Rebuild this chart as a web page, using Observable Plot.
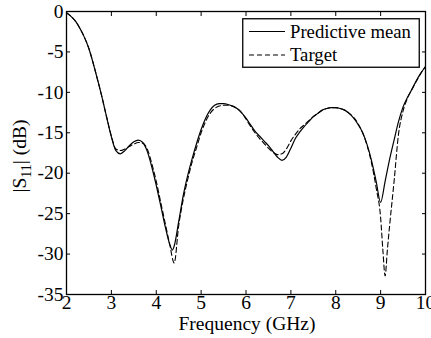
<!DOCTYPE html>
<html><head><meta charset="utf-8">
<script src="https://cdn.jsdelivr.net/npm/d3@7"></script>
<script src="https://cdn.jsdelivr.net/npm/@observablehq/plot@0.6"></script>
<style>
body{margin:0;background:#fff;}
#wrap{position:relative;width:431px;height:338px;overflow:hidden;font-family:"Liberation Serif","Times New Roman",serif;}
#legend{position:absolute;left:242px;top:18px;}
</style></head><body><div id="wrap"></div>
<script>
const freqMean = [2.0,2.1,2.2,2.3,2.4,2.5,2.6,2.7,2.8,2.9,3.0,3.1,3.2,3.3,3.4,3.5,3.6,3.7,3.8,3.9,4.0,4.1,4.2,4.3,4.36,4.4,4.5,4.6,4.7,4.8,4.9,5.0,5.1,5.2,5.3,5.4,5.5,5.6,5.7,5.8,5.9,6.0,6.1,6.2,6.3,6.4,6.5,6.6,6.7,6.8,6.9,7.0,7.1,7.2,7.3,7.4,7.5,7.6,7.7,7.8,7.9,8.0,8.1,8.2,8.3,8.4,8.5,8.6,8.7,8.8,8.9,9.0,9.1,9.2,9.3,9.4,9.5,9.6,9.7,9.8,9.9,10.0];
const meanS11 = [-0.2,-0.6,-1.2,-2.1,-3.2,-4.6,-6.5,-8.6,-10.8,-13.2,-15.5,-17.2,-17.6,-17.2,-16.6,-16.1,-15.9,-16.2,-17.3,-19.2,-21.5,-24.0,-26.6,-28.8,-29.5,-29.0,-26.0,-22.8,-20.3,-18.2,-16.3,-14.6,-13.2,-12.2,-11.6,-11.4,-11.4,-11.5,-11.7,-12.0,-12.5,-13.2,-14.0,-14.8,-15.4,-16.0,-16.6,-17.3,-18.0,-18.4,-18.0,-16.9,-15.7,-14.9,-14.2,-13.6,-13.0,-12.6,-12.2,-12.0,-11.9,-11.9,-12.0,-12.2,-12.6,-13.2,-14.0,-15.0,-16.5,-18.5,-21.0,-23.6,-21.0,-18.3,-15.9,-13.6,-11.8,-10.6,-9.6,-8.5,-7.6,-6.8];
const freqTarget = [2.0,2.1,2.2,2.3,2.4,2.5,2.6,2.7,2.8,2.9,3.0,3.1,3.2,3.3,3.4,3.5,3.6,3.7,3.8,3.9,4.0,4.1,4.2,4.3,4.4,4.5,4.6,4.7,4.8,4.9,5.0,5.1,5.2,5.3,5.4,5.5,5.6,5.7,5.8,5.9,6.0,6.1,6.2,6.3,6.4,6.5,6.6,6.7,6.8,6.9,7.0,7.1,7.2,7.3,7.4,7.5,7.6,7.7,7.8,7.9,8.0,8.1,8.2,8.3,8.4,8.5,8.6,8.7,8.8,8.9,9.0,9.05,9.1,9.15,9.2,9.3,9.4,9.5,9.6,9.7,9.8,9.9,10.0];
const targetS11 = [-0.1,-0.6,-1.2,-2.1,-3.2,-4.6,-6.5,-8.6,-10.8,-13.2,-15.4,-17.0,-17.2,-17.0,-16.7,-16.4,-16.2,-16.3,-17.0,-18.8,-21.0,-23.6,-26.2,-28.8,-31.1,-26.5,-23.3,-20.8,-18.6,-16.8,-15.0,-13.6,-12.6,-12.0,-11.7,-11.6,-11.6,-11.7,-12.0,-12.5,-13.3,-14.2,-15.0,-15.7,-16.3,-16.9,-17.4,-17.7,-17.6,-17.0,-16.0,-15.2,-14.5,-14.0,-13.5,-13.0,-12.6,-12.2,-12.0,-11.9,-11.9,-12.0,-12.2,-12.6,-13.1,-13.9,-15.0,-16.6,-18.8,-21.8,-25.5,-29.5,-32.7,-29.5,-26.5,-21.0,-15.1,-12.3,-10.7,-9.6,-8.6,-7.6,-6.8];
const xTicks = [2,3,4,5,6,7,8,9,10];
const yTicks = [0,-5,-10,-15,-20,-25,-30,-35];
const seriesNames = ["Predictive mean","Target"];

const meanData = freqMean.map((f,i)=>({f, v: meanS11[i]}));
const targetData = freqTarget.map((f,i)=>({f, v: targetS11[i]}));
const fmt = d => String(d);

const chart = Plot.plot({
  width: 431, height: 338,
  marginLeft: 66, marginRight: 6, marginTop: 11, marginBottom: 44,
  style: {fontSize: "19.5px", fontFamily: "Liberation Serif, Times New Roman, serif", color: "#000", background: "#fff", overflow: "visible"},
  x: {domain: [2,10], label: null},
  y: {domain: [-35,0], label: null},
  marks: [
    Plot.axisX({anchor:"bottom", ticks: xTicks, tickFormat: fmt, tickSize: 0, tickPadding: 1, label: null}),
    Plot.axisY({anchor:"left", ticks: yTicks, tickFormat: fmt, tickSize: 0, tickPadding: 3, label: null}),
    Plot.axisX({anchor:"bottom", ticks: xTicks, tickSize: -4, fill: "none", label: null, strokeWidth: 1}),
    Plot.axisX({anchor:"top", ticks: xTicks, tickSize: -4, fill: "none", label: null, strokeWidth: 1}),
    Plot.axisY({anchor:"left", ticks: yTicks, tickSize: -4, fill: "none", label: null, strokeWidth: 1}),
    Plot.axisY({anchor:"right", ticks: yTicks, tickSize: -4, fill: "none", label: null, strokeWidth: 1}),
    Plot.line(targetData, {x: "f", y: "v", stroke: "#000", strokeWidth: 1.1, strokeDasharray: "5,3", curve: "monotone-x"}),
    Plot.line(meanData, {x: "f", y: "v", stroke: "#000", strokeWidth: 1.2, curve: "monotone-x"}),
    Plot.frame({stroke: "#000", strokeWidth: 1.3})
  ]
});
document.getElementById("wrap").appendChild(chart);

const svg = d3.select(chart);
const ff = "Liberation Serif, Times New Roman, serif";
const yl = svg.append("text").attr("transform","translate(26,156) rotate(-90)")
  .attr("text-anchor","middle").attr("font-size",19.5).attr("font-family",ff).attr("fill","#000");
yl.append("tspan").text("|S");
yl.append("tspan").attr("font-size",14).attr("dy",5).text("11");
yl.append("tspan").attr("dy",-5).text("| (dB)");
svg.append("text").attr("x",247).attr("y",330).attr("text-anchor","middle")
  .attr("font-size",19.5).attr("font-family",ff).attr("fill","#000").text("Frequency (GHz)");

// legend
const lg = d3.select("#wrap").append("svg").attr("id","legend").attr("width",178).attr("height",50);
lg.append("rect").attr("x",0.75).attr("y",0.75).attr("width",176.5).attr("height",48.5).attr("fill","#fff").attr("stroke","#000").attr("stroke-width",1.3);
const styles = [null, "5,3"];
seriesNames.forEach((name,i)=>{
  const yy = 13.5 + i*23.5;
  lg.append("line").attr("x1",7).attr("x2",43).attr("y1",yy).attr("y2",yy).attr("stroke","#000").attr("stroke-width",1.2).attr("stroke-dasharray",styles[i]);
  lg.append("text").attr("x",48).attr("y",yy+6).attr("font-size",18.7).attr("font-family",ff).attr("fill","#000").text(name);
});
</script>
</body></html>
